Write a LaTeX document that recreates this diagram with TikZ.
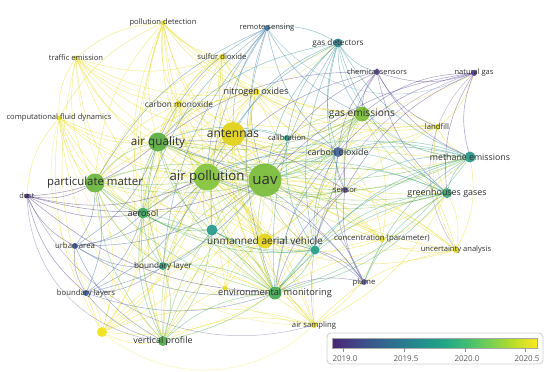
\documentclass[tikz,border=0pt]{standalone}
\usepackage{fontspec}
\setmainfont{Open Sans}
\pgfdeclarelayer{bg}
\pgfsetlayers{bg,main}
\newcommand\fsz[1]{\fontsize{#1}{#1}\selectfont}
% node colours
\definecolor{cpd}{HTML}{E6DC22}\definecolor{cte}{HTML}{E6DC22}\definecolor{cso}{HTML}{E6DC22}
\definecolor{cno}{HTML}{E6D81E}\definecolor{ccm}{HTML}{E4D820}\definecolor{ccfd}{HTML}{E6DC22}
\definecolor{clf}{HTML}{E6DA22}\definecolor{cco}{HTML}{E6DA22}\definecolor{cua}{HTML}{E6DC22}
\definecolor{cas}{HTML}{E6DC22}\definecolor{cy1}{HTML}{E6DC22}\definecolor{cy2}{HTML}{EFE21C}
\definecolor{can}{HTML}{E2D21A}\definecolor{cuv}{HTML}{E4D41D}
\definecolor{crs}{HTML}{3E77A0}\definecolor{cgd}{HTML}{2D8790}\definecolor{ccs}{HTML}{5A4795}
\definecolor{cng}{HTML}{553C8F}\definecolor{caq}{HTML}{5DAF45}\definecolor{cge}{HTML}{7BBD3A}
\definecolor{cca}{HTML}{2B998A}\definecolor{ccd}{HTML}{4A66A0}\definecolor{cme}{HTML}{2E9B8B}
\definecolor{cpm}{HTML}{6DB742}\definecolor{cap}{HTML}{86C440}\definecolor{cuav}{HTML}{7CBD3C}
\definecolor{cse}{HTML}{5B4A96}\definecolor{cgg}{HTML}{3EA676}\definecolor{cdu}{HTML}{472F7D}
\definecolor{cae}{HTML}{3EA760}\definecolor{ct1}{HTML}{2A9C8E}\definecolor{ct2}{HTML}{27A08A}
\definecolor{cur}{HTML}{3E5C95}\definecolor{cbl}{HTML}{35A47D}\definecolor{cpl}{HTML}{5A5EA5}
\definecolor{cbls}{HTML}{4264A0}\definecolor{cem}{HTML}{4AAD57}\definecolor{cvp}{HTML}{55AE4D}
% viridis
\definecolor{w0}{HTML}{482475}\definecolor{w1}{HTML}{414487}\definecolor{w2}{HTML}{355F8D}
\definecolor{w3}{HTML}{2A788E}\definecolor{w4}{HTML}{21918C}\definecolor{w5}{HTML}{22A884}
\definecolor{w6}{HTML}{44BF70}\definecolor{w7}{HTML}{7AD151}\definecolor{w8}{HTML}{BDDF26}
\definecolor{w9}{HTML}{FDE725}
\pgfdeclarehorizontalshading{viridis}{100bp}{color(0bp)=(w0); color(25bp)=(w0);
 color(30.56bp)=(w1); color(36.11bp)=(w2); color(41.67bp)=(w3); color(47.22bp)=(w4);
 color(52.78bp)=(w5); color(58.33bp)=(w6); color(63.89bp)=(w7); color(69.44bp)=(w8);
 color(75bp)=(w9); color(100bp)=(w9)}
\tikzset{
 dot/.style={circle, inner sep=0pt, draw=none, fill opacity=0.95},
 lbl/.style={inner sep=0pt, text=black!82},
 edge/.style={line width=0.55pt, draw opacity=0.48},
 longedge/.style={line width=0.5pt, draw opacity=0.35},
 tick/.style={draw=black!45, line width=0.6pt},
 ticklbl/.style={inner sep=0pt, text=black!65, font=\fsz{8}},
}
\begin{document}
\begin{tikzpicture}[x=1pt,y=-1pt]
\useasboundingbox (0,0) rectangle (550,372);
% nodes (dots)
\foreach \n/\x/\y/\r in {
 pd/163/23/2.5, te/76/58/2.5, so/222/57/3, rs/267/28/3, gd/338/43/4.5, cs/377/72/3,
 ng/474/73/3, no/256/92/3.5, cm/179/104/3.5, cfd/59/118/2.5, aq/158/142/9.5,
 an/233/134/12, ge/362/114/7.5, ca/287/138/3, lf/437/127/3, cd/338/152/5,
 me/470/157/5.5, pm/95/183/9.5, ap/207/177/13.5, uav/265/180/16.5, se/345/190/3,
 gg/447/193/5, du/27/196/2.5, ae/143/213/5.5, t1/212/230/5.5, uv/265/241/7.5,
 co/382/239/3, t2/315/250/4.5, ua/456/250/3, ur/75/246/3, bl/163/266/4,
 pl/364/282/3, y1/225/288/2.5, bls/86/293/3, em/275/293/6.5, as/314/325/3,
 y2/102/332/5, vp/163/341/5}
 \node[dot, minimum size=2*\r, fill=c\n] (\n) at (\x,\y) {};
% labels
\foreach \n/\t/\s in {
 pd/pollution detection/7.6, te/traffic emission/7.6, so/sulfur dioxide/7.7,
 rs/remote sensing/7.6, gd/gas detectors/8.2, cs/chemical sensors/7.5,
 ng/natural gas/7.5, no/nitrogen oxides/9, cm/carbon monoxide/8.3,
 cfd/computational fluid dynamics/7.6, aq/air quality/11.7, an/antennas/12,
 ge/gas emissions/10.2, ca/calibration/7.7, lf/landfill/7.7, cd/carbon dioxide/8.8,
 me/methane emissions/8.8, pm/particulate matter/11.4, ap/air pollution/13.3,
 uav/uav/15, se/sensor/7.7, gg/greenhouses gases/8.9, du/dust/7.3, ae/aerosol/9,
 uv/unmanned aerial vehicle/10.1, co/concentration (parameter)/7.8,
 ua/uncertainty analysis/7.6, ur/urban area/7.8, bl/boundary layer/8.2,
 pl/plume/7.7, bls/boundary layers/7.7, em/environmental monitoring/9.3,
 as/air sampling/7.7, vp/vertical profile/8.9}
 \node[lbl, font=\fsz{\s}] (\n-t) at (\n) {\t};
% edges
\begin{pgfonlayer}{bg}
\foreach \a/\b in {
 pd/ap, pd/uav, pd/aq, pd/pm, pd/an, pd/so, pd/no, pd/cm, pd/te, pd/ge, pd/em, pd/vp, pd/ae, pd/uv, pd/bl, pd/cfd,
 te/ap, te/pm, te/aq, te/uav, te/cfd, te/cm, te/an, te/ae, te/y2, te/so, te/no, te/em,
 so/ap, so/uav, so/aq, so/an, so/no, so/cm, so/pm, so/ge, so/em, so/uv, so/cd, so/ae,
 no/ap, no/uav, no/aq, no/an, no/cm, no/pm, no/ge, no/cd, no/em, no/uv, no/ae, no/me, no/lf, no/co, no/vp,
 cm/ap, cm/uav, cm/aq, cm/an, cm/pm, cm/ae, cm/em, cm/vp, cm/cd, cm/ge, cm/uv, cm/bl,
 cfd/ap, cfd/pm, cfd/aq, cfd/uav, cfd/ae, cfd/y2, cfd/du, cfd/vp, cfd/bl, cfd/em, cfd/an,
 an/ap, an/uav, an/aq, an/pm, an/ge, an/uv, an/em, an/cd, an/ae, an/vp, an/co, an/ua, an/as, an/me, an/lf, an/gg, an/bl, an/y2, an/t2, an/t1,
 lf/ge, lf/me, lf/uav, lf/ap, lf/gg, lf/cd, lf/ua, lf/ng, lf/em,
 uv/ap, uv/uav, uv/aq, uv/pm, uv/em, uv/ae, uv/vp, uv/bl, uv/co, uv/as, uv/y1, uv/y2, uv/ge, uv/gg, uv/me, uv/ua, uv/cd,
 co/uav, co/ap, co/ge, co/em, co/gg, co/ua, co/cd, co/aq, co/pm,
 ua/ge, ua/me, ua/gg, ua/uav, ua/ap, ua/em, ua/as, ua/aq,
 as/em, as/uav, as/ap, as/vp, as/y2, as/co, as/bl, as/gg, as/aq, as/pm,
 y1/em, y1/uav, y1/ap, y1/vp, y1/bl, y1/aq,
 y2/pm, y2/ae, y2/vp, y2/bl, y2/em, y2/ap, y2/uav, y2/aq, y2/bls,
 ap/uav, ap/aq, ap/pm, ap/ae, ap/em, ap/vp, ap/bl, ap/ge, ap/cd, ap/me, ap/gg, ap/se, ap/ca, ap/t1, ap/t2,
 uav/aq, uav/pm, uav/ge, uav/cd, uav/me, uav/gg, uav/se, uav/ca, uav/em, uav/t1, uav/t2, uav/ae, uav/vp, uav/bl,
 aq/pm, aq/ae, aq/em, aq/vp, aq/bl, aq/t1, aq/ge, aq/cd, aq/gg, aq/me,
 pm/ae, pm/em, pm/vp, pm/bl, pm/t1, pm/cd, pm/ge, pm/t2,
 ge/me, ge/gg, ge/cd, ge/em, ge/se, ge/t2, ge/ca, ge/vp,
 em/vp, em/bl, em/t1, em/t2, em/ae, em/gg, em/me, em/cd,
 ae/vp, ae/bl, ae/t1, ae/t2, vp/bl, vp/t1, vp/t2, bl/t1,
 gd/ap, gd/uav, gd/ge, gd/cd, gd/me, gd/an, gd/aq, gd/rs, gd/cs, gd/se, gd/gg, gd/t2, gd/ca, gd/em,
 rs/ap, rs/uav, rs/aq, rs/pm, rs/ae, rs/an, rs/cd, rs/em, rs/t1, rs/bl, rs/ge,
 cs/ge, cs/cd, cs/me, cs/uav, cs/ap, cs/se, cs/ng, cs/gg, cs/lf, cs/aq,
 ng/me, ng/ge, ng/gg, ng/cd, ng/se, ng/uav,
 me/gg, me/cd, me/uav, me/ap, me/em, me/t2, me/se, me/pl,
 gg/cd, gg/uav, gg/ap, gg/t2, gg/pl, gg/em,
 cd/se, cd/em, cd/t2, cd/pl, cd/ca, cd/ae, se/pl, se/em, se/t2, se/aq, ca/aq, ca/an, ca/t2,
 du/pm, du/ap, du/aq, du/ur, du/bls, du/ae, du/uav, du/em,
 ur/pm, ur/ap, ur/ae, ur/bl, ur/bls, ur/vp, ur/uav, ur/em, ur/aq,
 bls/pm, bls/ap, bls/ae, bls/bl, bls/vp, bls/em, bls/uav,
 pl/uav, pl/ap, pl/em, pl/t2, pl/uv, pl/aq, t1/uv, t1/t2, t2/uv}
 \draw[edge, draw=c\a] (\a) to[bend right=18] (\b);
\foreach \a/\b in {te/as, du/vp, du/as, cfd/as, y2/as, rs/ng, pd/ng, gd/me, ng/ua, te/gd, pd/gd, ng/as, cfd/vp}
 \draw[longedge, draw=c\a] (\a) to[bend right=40] (\b);
\end{pgfonlayer}
% colour bar
\node[draw=black!18, line width=0.9pt, rounded corners=4pt, fill=white, minimum width=216, minimum height=31, inner sep=0pt] (cbox) at (435,348.5) {};
\node[shading=viridis, draw=black!35, line width=0.4pt, minimum width=205, minimum height=10, inner sep=0pt] (cbar) at (434.5,343) {};
\foreach \x/\t in {343/2019.0, 404/2019.5, 465/2020.0, 525/2020.5} {
 \draw[tick] (\x,348) -- (\x,352);
 \node[ticklbl] (tl\x) at (\x+2,359) {\t};
}
\end{tikzpicture}
\end{document}
